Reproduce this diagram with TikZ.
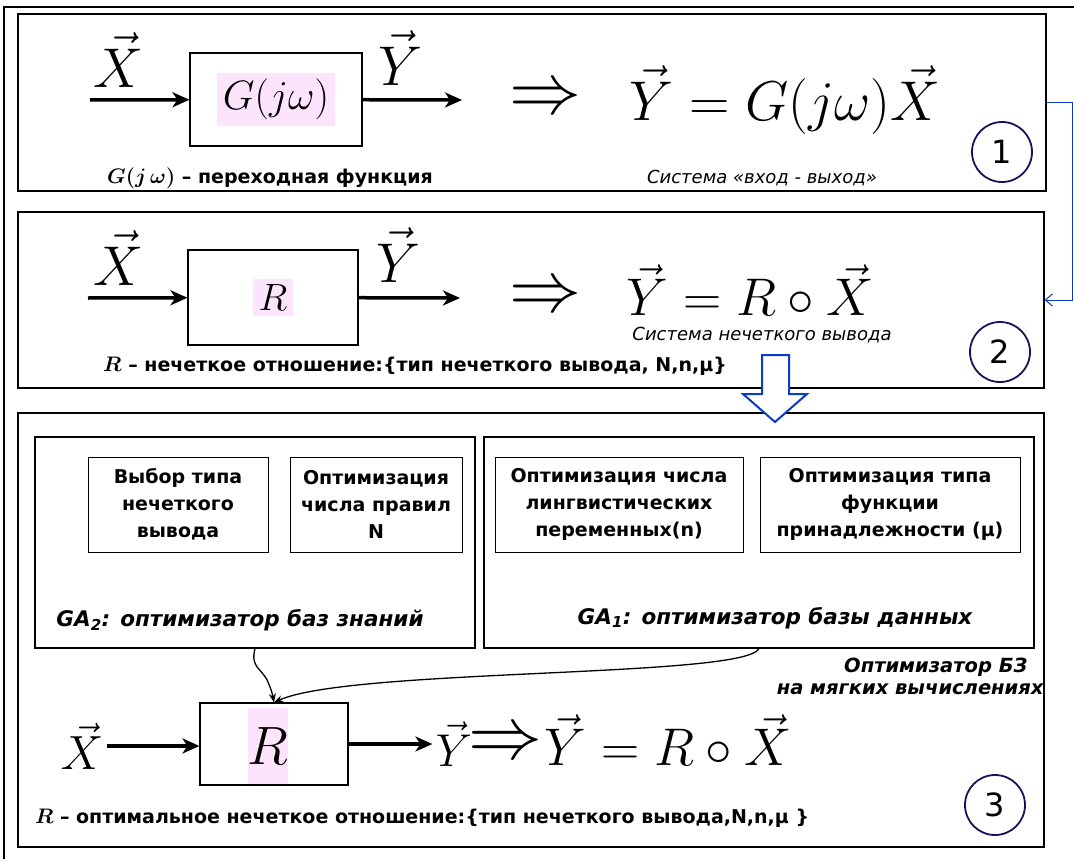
\RequirePackage{fix-cm}
\documentclass[tikz,border=0pt]{standalone}
\usepackage[no-math]{fontspec}
\setmainfont{DejaVu Sans}
\usetikzlibrary{arrows.meta,positioning}
\definecolor{pinkhl}{RGB}{253,228,253}
\definecolor{navy}{RGB}{20,20,90}
\definecolor{bluearr}{RGB}{10,60,200}
\tikzset{
  panel/.style={draw, line width=1.3pt, inner sep=0pt},
  block/.style={draw, line width=1.1pt, inner sep=0pt},
  optbox/.style={draw, line width=1pt, align=center, inner sep=0pt,
    font=\bfseries\fontsize{19}{27}\selectfont},
  sig/.style={line width=3.5pt, -{Stealth[length=17pt,width=15pt,inset=5pt]}},
  numcirc/.style={circle, draw=navy, line width=1.8pt, minimum size=60pt,
    inner sep=0pt, font=\fontsize{32}{32}\selectfont},
  bigmath/.style={font=\fontsize{56}{56}\selectfont},
  implies/.style={font=\fontsize{72}{72}\selectfont},
  caption/.style={font=\bfseries\fontsize{19}{21}\selectfont},
  itnote/.style={font=\itshape\fontsize{18}{20}\selectfont},
  gatext/.style={font=\bfseries\itshape\fontsize{21.5}{23}\selectfont}
}
\setlength{\fboxsep}{6pt}
\begin{document}
\begin{tikzpicture}[x=1pt, y=-1pt]
    \useasboundingbox (0,0) rectangle (1074,859);
    % Outer frame
    \draw[line width=2.5pt] (4,870) -- (4,7) -- (1080,7);
    % Panels
    \node[panel, minimum width=1028pt, minimum height=177pt] (pone) at (532,102.5) {};
    \node[panel, minimum width=1026pt, minimum height=176pt] (ptwo) at (531,300) {};
    \node[panel, minimum width=1026pt, minimum height=434pt] (pthree) at (531,630) {};
    % Panel 1: input - output
    \node[block, minimum width=172pt, minimum height=93pt] (gbox) at (276,99.5)
        {\fontsize{41}{41}\selectfont\colorbox{pinkhl}{$G(j\omega)$}};
    \coordinate (inone) at (90,100);
    \coordinate (outone) at (462,100);
    \draw[sig] (inone) -- (gbox);
    \draw[sig] (gbox) -- (outone);
    \node[bigmath] (xone) at (118,60) {$\vec{X}$};
    \node[bigmath] (yone) at (400,58) {$\vec{Y}$};
    \node[implies] (impone) at (545,100) {$\Rightarrow$};
    \node[bigmath] (eqone) at (785,100) {$\vec{Y} = G(j\omega)\vec{X}$};
    \node[caption] (capone) at (270,178) {{\fontsize{21}{21}\selectfont\boldmath$G(j\,\omega)$} – переходная функция};
    \node[itnote] (noteone) at (762,178) {Система «вход - выход»};
    \node[numcirc] (cone) at (1002,152) {1};
    % Panel 2: fuzzy inference
    \node[block, minimum width=170pt, minimum height=95pt] (rbox) at (273,297.5)
        {\fontsize{38}{38}\selectfont\colorbox{pinkhl}{$R$}};
    \coordinate (intwo) at (88,298);
    \coordinate (outtwo) at (460,298);
    \draw[sig] (intwo) -- (rbox);
    \draw[sig] (rbox) -- (outtwo);
    \node[bigmath] (xtwo) at (118,258) {$\vec{X}$};
    \node[bigmath] (ytwo) at (398,255) {$\vec{Y}$};
    \node[implies] (imptwo) at (545,298) {$\Rightarrow$};
    \node[font=\fontsize{53}{53}\selectfont] (eqtwo) at (750,290) {$\vec{Y} = R\circ\vec{X}$};
    \node[itnote] (notetwo) at (762,335) {Система нечеткого вывода};
    \node[caption] (captwo) at (415,366) {{\fontsize{21}{21}\selectfont\boldmath$R$} – нечеткое отношение:\{тип нечеткого вывода, N,n,μ\}};
    \node[numcirc] (ctwo) at (1000,352) {2};
    % Link 1 -> 2
    \draw[bluearr, line width=1pt, -{Straight Barb[length=7pt,width=12pt]}]
        (pone.east) -- ++(26,0) |- (ptwo.east);
    % Hollow arrow 2 -> 3
    \draw[bluearr, line width=2pt, fill=white] (762,355) -- (789,355) -- (789,394)
        -- (807,394) -- (775,422) -- (743,394) -- (762,394) -- cycle;
    % Panel 3: optimizers
    \node[block, minimum width=440pt, minimum height=211pt] (gatwo) at (255,542.5) {};
    \node[block, minimum width=550pt, minimum height=211pt] (gaone) at (759,542.5) {};
    \node[optbox, minimum width=180pt, minimum height=95pt] (typebox) at (178,504.5)
        {Выбор типа\\нечеткого\\вывода};
    \node[optbox, minimum width=172pt, minimum height=95pt] (rulebox) at (376,504.5)
        {Оптимизация\\числа правил\\N};
    \node[optbox, minimum width=248pt, minimum height=95pt] (varbox) at (619,504.5)
        {Оптимизация числа\\лингвистических\\переменных(n)};
    \node[optbox, minimum width=260pt, minimum height=95pt] (mfbox) at (890,504.5)
        {Оптимизация типа\\функции\\принадлежности (μ)};
    \node[gatext] (gatwotext) at (240,620) {GA\textsubscript{2}: оптимизатор баз знаний};
    \node[gatext] (gaonetext) at (775,618) {GA\textsubscript{1}: оптимизатор базы данных};
    \node[gatext, font=\bfseries\itshape\fontsize{19.5}{21}\selectfont, align=right,
        anchor=north east] (softnote) at (1047,654) {Оптимизатор БЗ\hspace*{16pt}\\[1pt]на мягких вычислениях};
    % Optimal relation
    \node[block, minimum width=148pt, minimum height=82pt] (rthree) at (274,744) {};
    \node[fill=pinkhl, minimum width=37pt, minimum height=76pt, inner sep=0pt,
        font=\fontsize{54}{54}\selectfont] (rthreetext) at (268,746) {$R$};
    \node[font=\fontsize{48}{48}\selectfont] (xthree) at (82,746) {$\vec{X}$};
    \draw[sig] (xthree.east) -- (xthree.east -| rthree.west);
    \node[font=\fontsize{46}{46}\selectfont] (ythree) at (454,744) {$\vec{Y}$};
    \draw[sig] (rthree) -- (ythree);
    \node[font=\fontsize{74}{74}\selectfont] (impthree) at (505,745) {$\Rightarrow$};
    \node[font=\fontsize{53}{53}\selectfont] (eqthree) at (668,740) {$\vec{Y} = R\circ\vec{X}$};
    \draw[line width=1.3pt, -{Stealth[length=9pt,width=7pt]}] (gatwo.south)
        .. controls (250,668) and (262,668) .. (268,682)
        .. controls (272,692) .. (rthree.north);
    \draw[line width=1.3pt, -{Stealth[length=9pt,width=7pt]}] (gaone.south)
        .. controls (745,678) and (350,668) .. (rthree.north);
    \node[caption] (capthree) at (422,818) {{\fontsize{21}{21}\selectfont\boldmath$R$} – оптимальное нечеткое отношение:\{тип нечеткого вывода,N,n,μ \}};
    \node[numcirc] (cthree) at (995,805) {3};
\end{tikzpicture}
\end{document}
